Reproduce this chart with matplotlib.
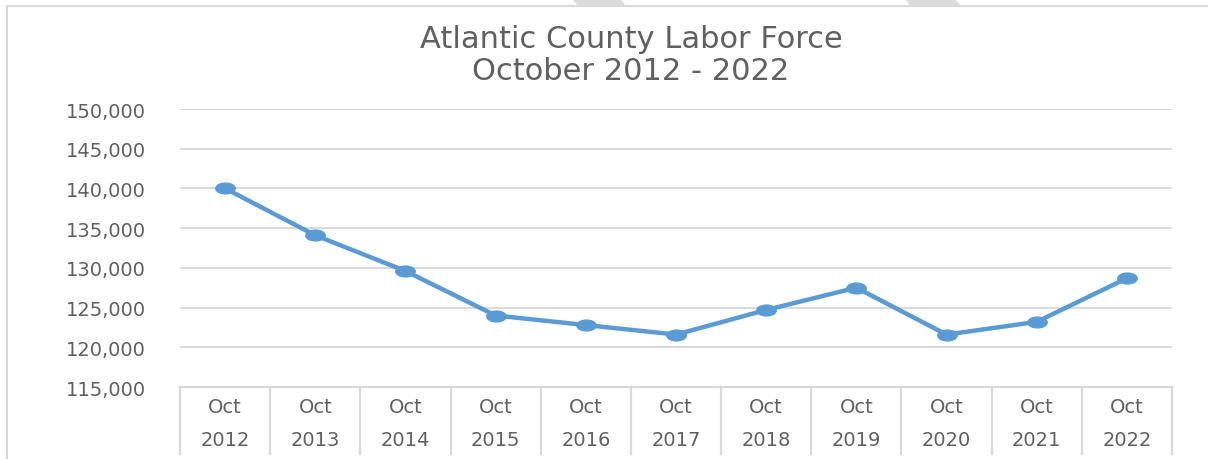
import numpy as np
import matplotlib
matplotlib.use("Agg")
import matplotlib.pyplot as plt
from matplotlib.path import Path
from matplotlib.patches import Polygon
from matplotlib.lines import Line2D
from matplotlib.transforms import blended_transform_factory

# Labor force, October of each year
months = ["Oct"] * 11
years = ["2012", "2013", "2014", "2015", "2016", "2017",
         "2018", "2019", "2020", "2021", "2022"]
labor_force = [140000, 134100, 129600, 124000, 122800, 121600,
               124700, 127500, 121600, 123200, 128700]

y_ticks = [115000, 120000, 125000, 130000, 135000, 140000, 145000, 150000]

title_lines = ["Atlantic County Labor Force", "October 2012 - 2022"]

W, H, DPI = 1208, 460, 100
TEXT = "#606060"
GRID = "#d9d9d9"
LINE = "#5b9bd5"

plt.rcParams["font.family"] = ["DejaVu Sans"]

fig = plt.figure(figsize=(W / DPI, H / DPI), dpi=DPI)
fig.patch.set_facecolor("white")

# plot area in pixel coordinates
left, right, top, bottom = 180, 1172, 110, 388
ax = fig.add_axes([left / W, 1 - bottom / H, (right - left) / W, (bottom - top) / H])

x = np.arange(len(years))

# elliptical marker (wider than tall)
circ = Path.unit_circle()
ellipse = Path(circ.vertices * np.array([1.8, 1.0]), circ.codes)

ax.plot(x, labor_force, color=LINE, lw=3.2, marker=ellipse, markersize=14,
        markerfacecolor=LINE, markeredgecolor=LINE, solid_joinstyle="round",
        zorder=3)

ax.set_xlim(-0.5, len(years) - 0.5)
ax.set_ylim(y_ticks[0], y_ticks[-1])
ax.set_yticks(y_ticks)
ax.set_yticklabels([f"{v:,}" for v in y_ticks])
ax.yaxis.grid(True, color=GRID, lw=1.4)
ax.set_axisbelow(True)
ax.tick_params(axis="y", length=0, pad=24.5, labelsize=14, labelcolor=TEXT)
ax.set_xticks([])

for s in ["left", "right", "top"]:
    ax.spines[s].set_visible(False)
ax.spines["bottom"].set_color(GRID)
ax.spines["bottom"].set_linewidth(1.6)

# two-level category boxes under the axis
tr = blended_transform_factory(ax.transData, ax.transAxes)
depth = (455 - bottom) / (bottom - top)
for k in range(len(years) + 1):
    ax.add_line(Line2D([k - 0.5, k - 0.5], [0, -depth], transform=tr,
                       color=GRID, lw=1.6, clip_on=False))
for i, (m, yr) in enumerate(zip(months, years)):
    ax.text(i, -(408 - bottom) / (bottom - top), m, transform=tr,
            ha="center", va="center", fontsize=14, color=TEXT)
    ax.text(i, -(441 - bottom) / (bottom - top), yr, transform=tr,
            ha="center", va="center", fontsize=14, color=TEXT)

# title
fig.text(631 / W, 1 - 40 / H, title_lines[0], ha="center", va="center",
         fontsize=22, color=TEXT)
fig.text(631 / W, 1 - 72 / H, title_lines[1], ha="center", va="center",
         fontsize=22, color=TEXT)

# chart frame
fig.add_artist(Line2D([7 / W, 1], [1 - 7 / H, 1 - 7 / H], transform=fig.transFigure,
                      color=GRID, lw=1.5))
fig.add_artist(Line2D([7 / W, 7 / W], [0, 1 - 7 / H], transform=fig.transFigure,
                      color=GRID, lw=1.5))

# tabs along the top edge
for x0, x1 in [(572, 620), (905, 955)]:
    pts = [(x0, 0), (x1, 0), (x1 + 5, 6), (x0 + 5, 6)]
    fig.add_artist(Polygon([(px / W, 1 - py / H) for px, py in pts], closed=True,
                           transform=fig.transFigure, facecolor="#dcdcdc",
                           edgecolor="none"))

fig.savefig("out.png", dpi=DPI, facecolor="white")
